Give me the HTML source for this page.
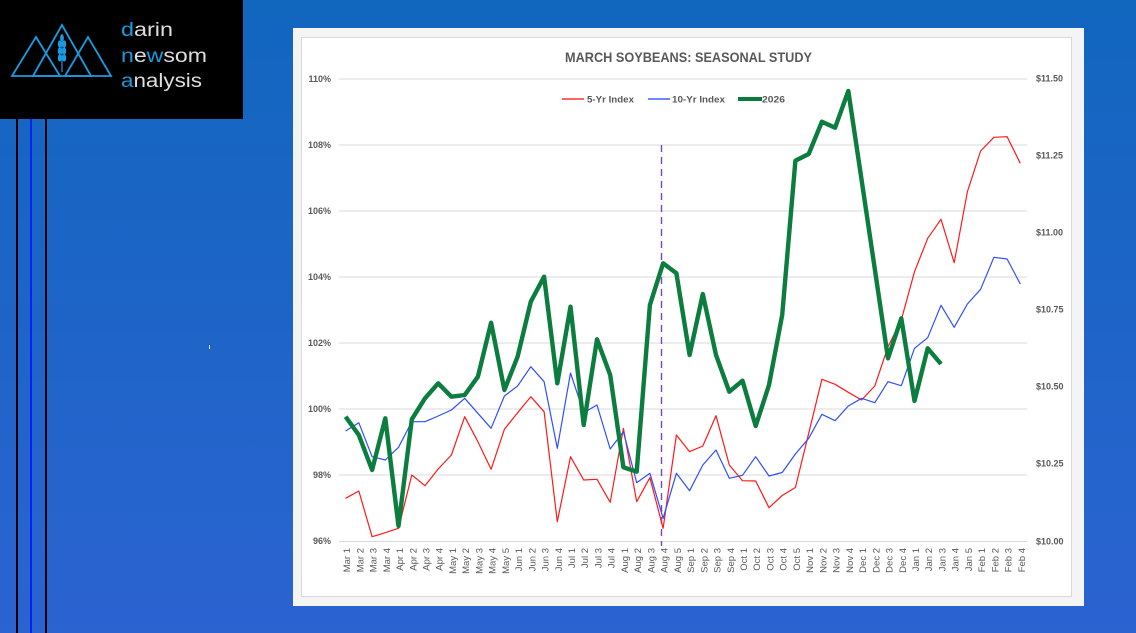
<!DOCTYPE html>
<html><head><meta charset="utf-8"><style>
html,body{margin:0;padding:0;width:1136px;height:633px;overflow:hidden;}
svg{display:block;}
text{font-family:"Liberation Sans",sans-serif;}
</style></head><body>
<svg width="1136" height="633" viewBox="0 0 1136 633" xmlns="http://www.w3.org/2000/svg">
<defs>
<linearGradient id="bg" x1="0" y1="0" x2="0" y2="1">
<stop offset="0" stop-color="#1166be"/>
<stop offset="1" stop-color="#2b63d1"/>
</linearGradient>
</defs>
<rect x="0" y="0" width="1136" height="633" fill="url(#bg)"/>
<!-- logo -->
<rect x="0" y="0" width="243" height="119" fill="#000"/>
<g fill="none" stroke="#1a9be0" stroke-width="1.8" stroke-linejoin="miter">
<polygon points="12,76 36,37 60,76"/>
<polygon points="33,76 62,25 91,76"/>
<polygon points="65,76 88,37 111,76"/>
</g>
<g stroke="#1a9be0" stroke-width="1.2" fill="#1a9be0">
<line x1="62" y1="34" x2="62" y2="72"/>
<ellipse cx="59.8" cy="44" rx="1.4" ry="3"/><ellipse cx="64.2" cy="44" rx="1.4" ry="3"/>
<ellipse cx="59.8" cy="51" rx="1.4" ry="3"/><ellipse cx="64.2" cy="51" rx="1.4" ry="3"/>
<ellipse cx="59.8" cy="58" rx="1.4" ry="3"/><ellipse cx="64.2" cy="58" rx="1.4" ry="3"/>
<ellipse cx="62" cy="38" rx="1.3" ry="2.8"/>
</g>
<g font-size="19" fill="#dedede">
<text x="121" y="36" textLength="52" lengthAdjust="spacingAndGlyphs"><tspan fill="#1a9be0">d</tspan>arin</text>
<text x="121" y="62" textLength="86" lengthAdjust="spacingAndGlyphs"><tspan fill="#1a9be0">n</tspan>e<tspan fill="#1a9be0">w</tspan>som</text>
<text x="121" y="87" textLength="81" lengthAdjust="spacingAndGlyphs"><tspan fill="#1a9be0">a</tspan>nalysis</text>
</g>
<!-- vertical lines -->
<rect x="16" y="119" width="2" height="514" fill="#000"/>
<rect x="30" y="119" width="2" height="514" fill="#0022ff"/>
<rect x="45" y="119" width="2" height="514" fill="#000"/>
<rect x="209" y="345" width="1" height="4" fill="#dfe6f5"/>
<!-- chart frame -->
<rect x="293" y="28" width="791" height="578" fill="#f4f4f4"/>
<rect x="301.5" y="37.5" width="770" height="559" fill="#fff" stroke="#d9d9d9" stroke-width="1"/>
<!-- title -->
<text x="688.5" y="62" text-anchor="middle" font-size="14" font-weight="bold" fill="#595959" textLength="247" lengthAdjust="spacingAndGlyphs">MARCH SOYBEANS: SEASONAL STUDY</text>
<!-- gridlines -->
<g stroke="#d9d9d9" stroke-width="1">
<line x1="339" y1="79" x2="1027" y2="79"/>
<line x1="339" y1="145" x2="1027" y2="145"/>
<line x1="339" y1="211" x2="1027" y2="211"/>
<line x1="339" y1="277" x2="1027" y2="277"/>
<line x1="339" y1="343" x2="1027" y2="343"/>
<line x1="339" y1="409" x2="1027" y2="409"/>
<line x1="339" y1="475" x2="1027" y2="475"/>
<line x1="339" y1="541.5" x2="1027" y2="541.5"/>
</g>
<!-- left axis labels -->
<g font-size="9" font-weight="bold" fill="#595959" text-anchor="end">
<text x="331" y="82">110%</text>
<text x="331" y="148">108%</text>
<text x="331" y="214">106%</text>
<text x="331" y="280">104%</text>
<text x="331" y="346">102%</text>
<text x="331" y="412">100%</text>
<text x="331" y="478">98%</text>
<text x="331" y="544">96%</text>
</g>
<!-- right axis labels -->
<g font-size="9" font-weight="bold" fill="#595959">
<text x="1036" y="81.5">$11.50</text>
<text x="1036" y="158.5">$11.25</text>
<text x="1036" y="235.5">$11.00</text>
<text x="1036" y="312.5">$10.75</text>
<text x="1036" y="389.5">$10.50</text>
<text x="1036" y="466.5">$10.25</text>
<text x="1036" y="544.5">$10.00</text>
</g>
<!-- legend -->
<line x1="562" y1="99" x2="584" y2="99" stroke="#ff3030" stroke-width="1.6"/>
<text x="587" y="102.5" font-size="9" font-weight="bold" fill="#595959" textLength="47" lengthAdjust="spacingAndGlyphs">5-Yr Index</text>
<line x1="648" y1="99" x2="670" y2="99" stroke="#4060ff" stroke-width="1.6"/>
<text x="672" y="102.5" font-size="9" font-weight="bold" fill="#595959" textLength="53" lengthAdjust="spacingAndGlyphs">10-Yr Index</text>
<line x1="738" y1="99" x2="762" y2="99" stroke="#0b7a3e" stroke-width="4"/>
<text x="762" y="102.5" font-size="9" font-weight="bold" fill="#595959" textLength="23" lengthAdjust="spacingAndGlyphs">2026</text>
<!-- dashed vertical -->
<line x1="661.5" y1="145" x2="661.5" y2="546" stroke="#7a44c8" stroke-width="1.4" stroke-dasharray="7,5"/>
<!-- red 5yr -->
<polyline fill="none" stroke="#ff1a1a" stroke-width="1.2" stroke-linejoin="round" points="345.6,498.3 358.8,491 372.1,536.7 385.3,532.7 398.5,528.3 411.8,475 425.0,485.7 438.2,469 451.4,455 464.7,416.7 477.9,441.7 491.1,469.3 504.4,429.3 517.6,412.7 530.8,396.7 544.1,411.7 557.3,521.7 570.5,456.7 583.7,480 597.0,479.3 610.2,502.3 623.4,428.3 636.7,501.7 649.9,477.7 663.1,528.3 676.4,435 689.6,451.7 702.8,446 716.0,415.7 729.3,465 742.5,480.7 755.7,481 769.0,507.7 782.2,495.5 795.4,487.5 808.7,433.3 821.9,379.3 835.1,384.3 848.3,392.3 861.6,400 874.8,386 888.0,346.7 901.3,320 914.5,271.7 927.7,238.3 941.0,219.3 954.2,262.7 967.4,191.7 980.6,151 993.9,137.3 1007.1,136.7 1020.3,163.3"/>
<!-- blue 10yr -->
<polyline fill="none" stroke="#2f4fff" stroke-width="1.2" stroke-linejoin="round" points="345.6,431 358.8,422.7 372.1,456.7 385.3,460 398.5,447.3 411.8,421.7 425.0,421.7 438.2,416 451.4,410 464.7,398.3 477.9,413.3 491.1,428.3 504.4,396 517.6,386 530.8,366.7 544.1,381.7 557.3,448.3 570.5,373 583.7,412.7 597.0,405 610.2,449 623.4,431.7 636.7,482.7 649.9,473.3 663.1,518.3 676.4,473.3 689.6,490.7 702.8,465 716.0,450 729.3,478.3 742.5,475.3 755.7,456.7 769.0,476 782.2,472.5 795.4,454 808.7,438.3 821.9,414.3 835.1,420.7 848.3,406 861.6,398.3 874.8,402.7 888.0,381.7 901.3,385.7 914.5,348.3 927.7,337.7 941.0,305.3 954.2,327.3 967.4,304 980.6,289.3 993.9,257.3 1007.1,259 1020.3,284"/>
<!-- green 2026 -->
<polyline fill="none" stroke="#0b7d3e" stroke-width="4.4" stroke-linejoin="round" points="345.6,416.7 358.8,435 372.1,470 385.3,418.3 398.5,526 411.8,419.3 425.0,398.3 438.2,383.3 451.4,396.7 464.7,395 477.9,376.7 491.1,322.7 504.4,390 517.6,356.7 530.8,301.7 544.1,276.7 557.3,383.3 570.5,306.7 583.7,425 597.0,339.3 610.2,375 623.4,467.3 636.7,471.7 649.9,305 663.1,263.3 676.4,273.3 689.6,355 702.8,294 716.0,355 729.3,391.7 742.5,380.7 755.7,426 769.0,385 782.2,315 795.4,160.7 808.7,154 821.9,121.7 835.1,127.7 848.3,91 861.6,180 874.8,269 888.0,358.3 901.3,318.3 914.5,401 927.7,348.3 941.0,364"/>
<!-- x labels -->
<g font-size="9.5" fill="#595959" text-anchor="end">
<text transform="translate(350.1,548) rotate(-90)">Mar 1</text>
<text transform="translate(363.3,548) rotate(-90)">Mar 2</text>
<text transform="translate(376.6,548) rotate(-90)">Mar 3</text>
<text transform="translate(389.8,548) rotate(-90)">Mar 4</text>
<text transform="translate(403.0,548) rotate(-90)">Apr 1</text>
<text transform="translate(416.3,548) rotate(-90)">Apr 2</text>
<text transform="translate(429.5,548) rotate(-90)">Apr 3</text>
<text transform="translate(442.7,548) rotate(-90)">Apr 4</text>
<text transform="translate(455.9,548) rotate(-90)">May 1</text>
<text transform="translate(469.2,548) rotate(-90)">May 2</text>
<text transform="translate(482.4,548) rotate(-90)">May 3</text>
<text transform="translate(495.6,548) rotate(-90)">May 4</text>
<text transform="translate(508.9,548) rotate(-90)">May 5</text>
<text transform="translate(522.1,548) rotate(-90)">Jun 1</text>
<text transform="translate(535.3,548) rotate(-90)">Jun 2</text>
<text transform="translate(548.6,548) rotate(-90)">Jun 3</text>
<text transform="translate(561.8,548) rotate(-90)">Jun 4</text>
<text transform="translate(575.0,548) rotate(-90)">Jul 1</text>
<text transform="translate(588.2,548) rotate(-90)">Jul 2</text>
<text transform="translate(601.5,548) rotate(-90)">Jul 3</text>
<text transform="translate(614.7,548) rotate(-90)">Jul 4</text>
<text transform="translate(627.9,548) rotate(-90)">Aug 1</text>
<text transform="translate(641.2,548) rotate(-90)">Aug 2</text>
<text transform="translate(654.4,548) rotate(-90)">Aug 3</text>
<text transform="translate(667.6,548) rotate(-90)">Aug 4</text>
<text transform="translate(680.9,548) rotate(-90)">Aug 5</text>
<text transform="translate(694.1,548) rotate(-90)">Sep 1</text>
<text transform="translate(707.3,548) rotate(-90)">Sep 2</text>
<text transform="translate(720.5,548) rotate(-90)">Sep 3</text>
<text transform="translate(733.8,548) rotate(-90)">Sep 4</text>
<text transform="translate(747.0,548) rotate(-90)">Oct 1</text>
<text transform="translate(760.2,548) rotate(-90)">Oct 2</text>
<text transform="translate(773.5,548) rotate(-90)">Oct 3</text>
<text transform="translate(786.7,548) rotate(-90)">Oct 4</text>
<text transform="translate(799.9,548) rotate(-90)">Oct 5</text>
<text transform="translate(813.2,548) rotate(-90)">Nov 1</text>
<text transform="translate(826.4,548) rotate(-90)">Nov 2</text>
<text transform="translate(839.6,548) rotate(-90)">Nov 3</text>
<text transform="translate(852.8,548) rotate(-90)">Nov 4</text>
<text transform="translate(866.1,548) rotate(-90)">Dec 1</text>
<text transform="translate(879.3,548) rotate(-90)">Dec 2</text>
<text transform="translate(892.5,548) rotate(-90)">Dec 3</text>
<text transform="translate(905.8,548) rotate(-90)">Dec 4</text>
<text transform="translate(919.0,548) rotate(-90)">Jan 1</text>
<text transform="translate(932.2,548) rotate(-90)">Jan 2</text>
<text transform="translate(945.5,548) rotate(-90)">Jan 3</text>
<text transform="translate(958.7,548) rotate(-90)">Jan 4</text>
<text transform="translate(971.9,548) rotate(-90)">Jan 5</text>
<text transform="translate(985.1,548) rotate(-90)">Feb 1</text>
<text transform="translate(998.4,548) rotate(-90)">Feb 2</text>
<text transform="translate(1011.6,548) rotate(-90)">Feb 3</text>
<text transform="translate(1024.8,548) rotate(-90)">Feb 4</text>
</g>
</svg>
</body></html>
